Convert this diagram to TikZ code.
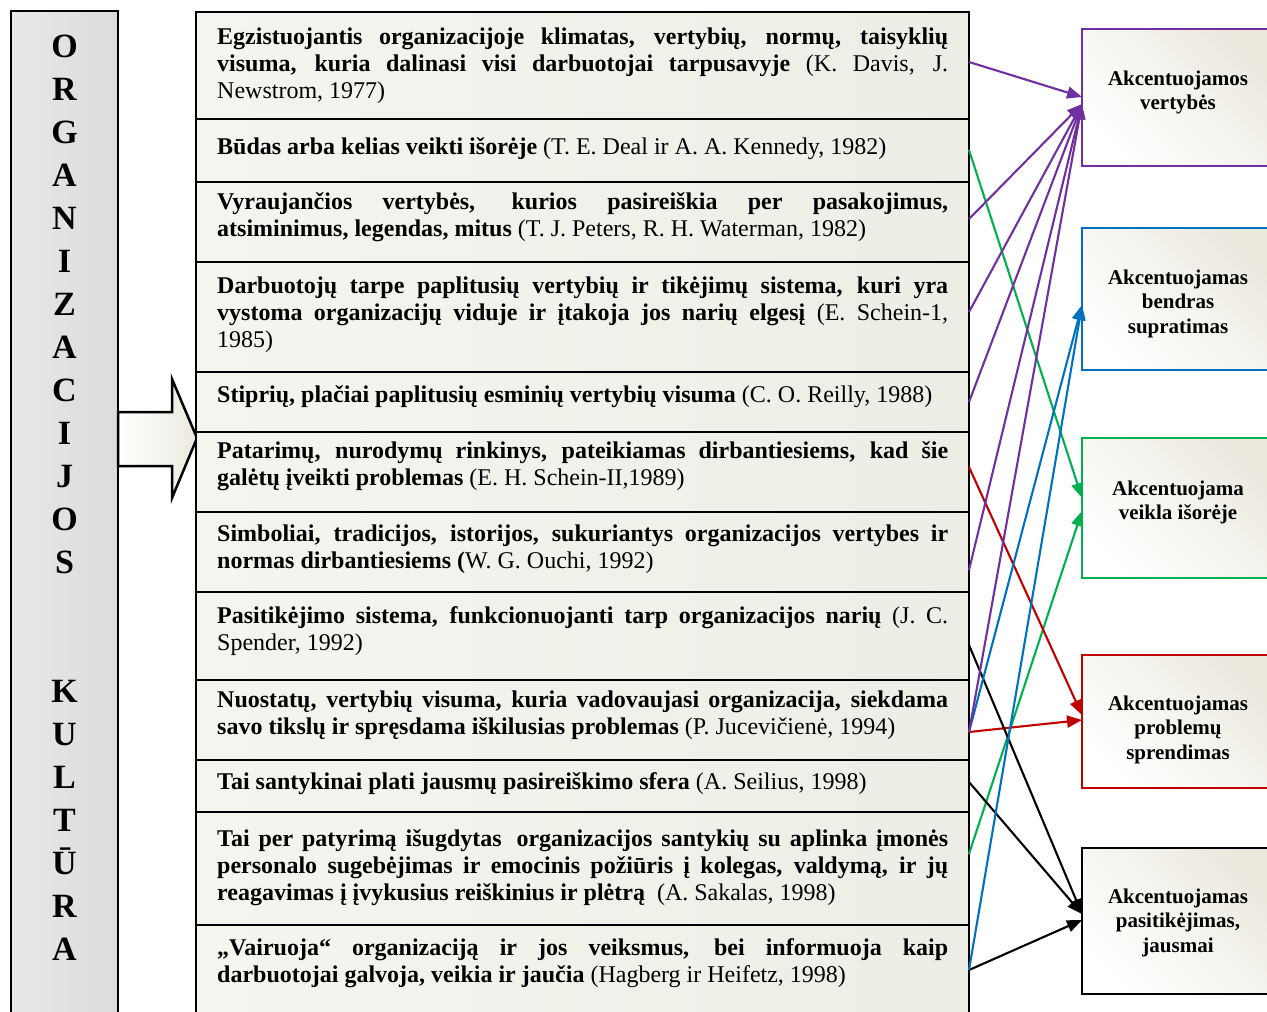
\documentclass[tikz,border=0pt]{standalone}
\usepackage{fontspec}
\setmainfont{Liberation Serif}
\usetikzlibrary{arrows.meta}
\definecolor{cpurple}{HTML}{7030A0}
\definecolor{cblue}{HTML}{0070C0}
\definecolor{cgreen}{HTML}{00B050}
\definecolor{cred}{HTML}{C00000}
\definecolor{cream}{HTML}{EBE9DE}
\definecolor{tableL}{HTML}{F5F4EF}
\definecolor{tableR}{HTML}{EEEDE5}
\begin{document}
\begin{tikzpicture}[x=1pt,y=-1pt,
  rowbox/.style={draw=black, line width=2pt, minimum width=773pt, anchor=north west,
    inner sep=0pt, outer sep=0pt},
  rowtext/.style={anchor=north west, inner sep=0pt, text width=731pt, align=justify,
    font=\fontsize{24}{27}\selectfont},
  target/.style={draw=#1, line width=2.5pt, anchor=north west, minimum width=192pt,
    inner sep=0pt, outer sep=0pt, top color=cream, bottom color=white, shading angle=-45},
  targettext/.style={anchor=north, align=center, inner sep=0pt,
    font=\fontsize{21}{24.5}\selectfont\bfseries},
  conn/.style={draw=#1, line width=2.1pt, -{Triangle[length=15pt,width=12pt]}},
]
\useasboundingbox (0,0) rectangle (1267,1012);
\clip (0,0) rectangle (1267,1012);

% left column with the vertical title
\node[draw=black, line width=2.5pt, anchor=north west, inner sep=0pt, outer sep=0pt,
  minimum width=107pt, minimum height=1030pt,
  left color=gray!18, middle color=gray!5, right color=gray!28] (col) at (11,11) {};
\node[anchor=north, inner sep=0pt, align=center,
  font=\fontsize{34}{43}\selectfont\bfseries] (title) at (64.5,57-30.1)
  {\strut O\\R\\G\\A\\N\\I\\Z\\A\\C\\I\\J\\O\\S\\[86pt]K\\U\\L\\T\\Ū\\R\\A};

% block arrow into the table
\path[draw=black, line width=2.5pt, left color=white, right color=cream]
  (col.east |- 0,412) -- (172,412) -- (172,379) -- (197,438) -- (172,498)
  -- (172,466) -- (col.east |- 0,466) -- cycle;

% table background and rows
\path[left color=tableL, right color=tableR] (196,12) rectangle (969,1030);
\node[rowbox, minimum height=107pt] (r1) at (196,12) {};
\node[rowbox, minimum height=63pt]  (r2) at (196,119) {};
\node[rowbox, minimum height=80pt]  (r3) at (196,182) {};
\node[rowbox, minimum height=110pt] (r4) at (196,262) {};
\node[rowbox, minimum height=60pt]  (r5) at (196,372) {};
\node[rowbox, minimum height=80pt]  (r6) at (196,432) {};
\node[rowbox, minimum height=80pt]  (r7) at (196,512) {};
\node[rowbox, minimum height=88pt]  (r8) at (196,592) {};
\node[rowbox, minimum height=80pt]  (r9) at (196,680) {};
\node[rowbox, minimum height=52pt]  (r10) at (196,760) {};
\node[rowbox, minimum height=113pt] (r11) at (196,812) {};
\node[rowbox, minimum height=110pt] (r12) at (196,925) {};

% row texts (first baseline = top + 18.9)
\node[rowtext] (t1) at (217,44-18.9) {\strut\textbf{Egzistuojantis organizacijoje klimatas, vertybių, normų, taisyklių\linebreak visuma, kuria dalinasi visi darbuotojai tarpusavyje} (K. Davis, J.\linebreak Newstrom, 1977)};
\node[rowtext] (t2) at (217,154-18.9) {\strut\textbf{Būdas arba kelias veikti išorėje} (T. E. Deal ir A. A. Kennedy, 1982)};
\node[rowtext] (t3) at (217,209-18.9) {\strut\textbf{Vyraujančios vertybės, kurios pasireiškia per pasakojimus,\linebreak atsiminimus, legendas, mitus} (T. J. Peters, R. H. Waterman, 1982)};
\node[rowtext] (t4) at (217,293-18.9) {\strut\textbf{Darbuotojų tarpe paplitusių vertybių ir tikėjimų sistema, kuri yra\linebreak vystoma organizacijų viduje ir įtakoja jos narių elgesį} (E. Schein-1,\linebreak 1985)};
\node[rowtext] (t5) at (217,402-18.9) {\strut\textbf{Stiprių, plačiai paplitusių esminių vertybių visuma} (C. O. Reilly, 1988)};
\node[rowtext] (t6) at (217,458-18.9) {\strut\textbf{Patarimų, nurodymų rinkinys, pateikiamas dirbantiesiems, kad šie\linebreak galėtų įveikti problemas} (E. H. Schein-II,1989)};
\node[rowtext] (t7) at (217,541-18.9) {\strut\textbf{Simboliai, tradicijos, istorijos, sukuriantys organizacijos vertybes ir\linebreak normas dirbantiesiems (}W. G. Ouchi, 1992)};
\node[rowtext] (t8) at (217,623-18.9) {\strut\textbf{Pasitikėjimo sistema, funkcionuojanti tarp organizacijos narių} (J. C.\linebreak Spender, 1992)};
\node[rowtext] (t9) at (217,707-18.9) {\strut\textbf{Nuostatų, vertybių visuma, kuria vadovaujasi organizacija, siekdama\linebreak savo tikslų ir spręsdama iškilusias problemas} (P. Jucevičienė, 1994)};
\node[rowtext] (t10) at (217,789-18.9) {\strut\textbf{Tai santykinai plati jausmų pasireiškimo sfera} (A. Seilius, 1998)};
\node[rowtext] (t11) at (217,846-18.9) {\strut\textbf{Tai per patyrimą išugdytas\hspace{0.25em} organizacijos santykių su aplinka įmonės\linebreak personalo sugebėjimas ir emocinis požiūris į kolegas, valdymą, ir jų\linebreak reagavimas į įvykusius reiškinius ir plėtrą}\hspace{0.25em} (A. Sakalas, 1998)};
\node[rowtext] (t12) at (217,955-18.9) {\strut\textbf{„Vairuoja“ organizaciją ir jos veiksmus, bei informuoja kaip\linebreak darbuotojai galvoja, veikia ir jaučia} (Hagberg ir Heifetz, 1998)};

% emphasis boxes on the right
\node[target=cpurple, minimum height=137pt] (a) at (1082,29) {};
\node[target=cblue,   minimum height=142pt] (b) at (1082,228) {};
\node[target=cgreen,  minimum height=140pt] (c) at (1082,438) {};
\node[target=cred,    minimum height=133pt] (d) at (1082,655) {};
\node[target=black,   minimum height=146pt] (e) at (1082,848) {};
\node[targettext] (ta) at (1178,85-17.15)  {\strut Akcentuojamos\\vertybės};
\node[targettext] (tb) at (1178,284-17.15) {\strut Akcentuojamas\\bendras\\supratimas};
\node[targettext] (tc) at (1178,495-17.15) {\strut Akcentuojama\\veikla išorėje};
\node[targettext] (td) at (1178,710-17.15) {\strut Akcentuojamas\\problemų\\sprendimas};
\node[targettext] (te) at (1178,903-17.15) {\strut Akcentuojamas\\pasitikėjimas,\\jausmai};

% connectors
\draw[conn=cgreen]  (r2.east |- 0,150)  -- (c.west |- 0,498);
\draw[conn=cgreen]  (r11.east |- 0,854) -- (c.west |- 0,511);
\draw[conn=cred]    (r6.east |- 0,467)  -- (d.west |- 0,715);
\draw[conn=cred]    (r9.east |- 0,732)  -- (d.west |- 0,720);
\draw[conn=black]   (r8.east |- 0,645)  -- (e.west |- 0,914);
\draw[conn=black]   (r10.east |- 0,782) -- (e.west |- 0,914);
\draw[conn=black]   (r12.east |- 0,970) -- (e.west |- 0,920);
\draw[conn=cblue]   (r9.east |- 0,732)  -- (b.west |- 0,305);
\draw[conn=cblue]   (r12.east |- 0,970) -- (b.west |- 0,305);
\draw[conn=cpurple] (r1.east |- 0,62)   -- (a.west |- 0,97);
\draw[conn=cpurple] (r3.east |- 0,219)  -- (a.west |- 0,104);
\draw[conn=cpurple] (r4.east |- 0,312)  -- (a.west |- 0,104);
\draw[conn=cpurple] (r5.east |- 0,402)  -- (a.west |- 0,104);
\draw[conn=cpurple] (r7.east |- 0,570)  -- (a.west |- 0,104);
\draw[conn=cpurple] (r9.east |- 0,732)  -- (a.west |- 0,104);
\end{tikzpicture}
\end{document}
